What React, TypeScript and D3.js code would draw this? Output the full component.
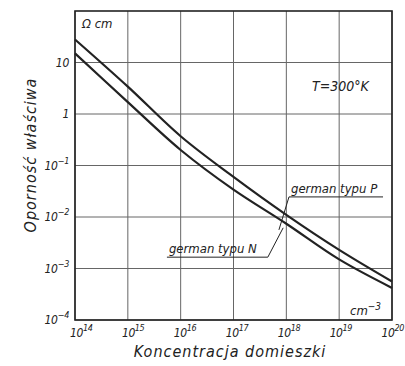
import React from 'react';
import * as d3 from 'd3';

// concentration, cm^-3
const conc = [1e14, 1e15, 1e16, 1e17, 1e18, 1e19, 1e20];
// resistivity, ohm cm
const rhoP = [28, 3.4, 0.37, 0.06, 0.011, 0.0023, 0.00056];
const rhoN = [15, 1.7, 0.2, 0.034, 0.0074, 0.0015, 0.00042];

const xExp = [14, 15, 16, 17, 18, 19, 20];
const yTicks = [1e-4, 1e-3, 1e-2, 1e-1, 1, 10];
const yLabels = ['-4', '-3', '-2', '-1', '1', '10'];

// label anchors in data units (log10)
const labelP = {x0: 18.05, x1: 19.83, y: -1.61, leadX: 17.86, leadY: -2.25, text: 'german typu P'};
const labelN = {x0: 15.74, x1: 17.65, y: -2.78, leadX: 17.94, leadY: -2.21, text: 'german typu N'};

const W = 405, H = 366;
const margin = {top: 11, right: 13, bottom: 46, left: 75};

export default function App() {
  const x = d3.scaleLog().domain([1e14, 1e20]).range([margin.left, W - margin.right]);
  const y = d3.scaleLog().domain([1e-4, 1e2]).range([H - margin.bottom, margin.top]);

  const line = d3.line<number>()
    .x((d, i) => x(conc[i]))
    .y(d => y(d))
    .curve(d3.curveCatmullRom.alpha(0.5));

  const ink = '#222';
  const font = '"DejaVu Sans Condensed", "DejaVu Sans", sans-serif';

  const lab = (l: typeof labelP, up: boolean) => {
    const ax = x(Math.pow(10, l.x0)), bx = x(Math.pow(10, l.x1)), ly = y(Math.pow(10, l.y));
    const lx = x(Math.pow(10, l.leadX)), lyy = y(Math.pow(10, l.leadY));
    const startX = up ? ax : bx;
    return (
      <g>
        <line x1={ax} x2={bx} y1={ly} y2={ly} stroke={ink} strokeWidth={1} />
        <line x1={startX} y1={ly} x2={lx} y2={lyy} stroke={ink} strokeWidth={1} />
        <text x={ax + 2} y={ly - 4} fontSize={13} fontStyle="italic" fill={ink} fontFamily={font}>{l.text}</text>
      </g>
    );
  };

  return (
    <svg width={W} height={H} style={{position: 'absolute', left: 0, top: 0, background: '#fff'}}>
      {/* grid */}
      {conc.map((c, i) => (
        <line key={'gx' + i} x1={x(c)} x2={x(c)} y1={y(1e2)} y2={y(1e-4)} stroke="#666" strokeWidth={1} />
      ))}
      {yTicks.map((t, i) => (
        <line key={'gy' + i} x1={x(1e14)} x2={x(1e20)} y1={y(t)} y2={y(t)} stroke="#666" strokeWidth={1} />
      ))}
      <rect x={x(1e14)} y={y(1e2)} width={x(1e20) - x(1e14)} height={y(1e-4) - y(1e2)}
        fill="none" stroke={ink} strokeWidth={1.6} />

      {/* curves */}
      <path d={line(rhoP) || ''} fill="none" stroke={ink} strokeWidth={2.2} />
      <path d={line(rhoN) || ''} fill="none" stroke={ink} strokeWidth={2.2} />

      {/* x tick labels */}
      {xExp.map((e, i) => (
        <text key={'xl' + i} x={x(conc[i]) - 5 - i * 0.9} y={337} fontSize={12} fontStyle="italic" fill={ink}
          fontFamily={font} letterSpacing={-0.4}>
          10<tspan dy={-6} fontSize={9}>{e}</tspan>
        </text>
      ))}
      {/* y tick labels */}
      {yTicks.map((t, i) => (
        <text key={'yl' + i} x={margin.left - 6} y={y(t) + 4} fontSize={12} fontStyle="italic" fill={ink}
          fontFamily={font} textAnchor="end" letterSpacing={-0.3}>
          {t >= 1 ? yLabels[i] : (<>10<tspan dy={-6} fontSize={9}>{yLabels[i].replace('-', '\u2212')}</tspan></>)}
        </text>
      ))}

      {/* axis titles */}
      <text x={230} y={357} textAnchor="middle" fontSize={16} fontStyle="italic" fill={ink} fontFamily={font}
        letterSpacing={1}>
        Koncentracja domieszki
      </text>
      <text transform={`translate(36,${155}) rotate(-90)`} textAnchor="middle" fontSize={16} fontStyle="italic"
        fill={ink} fontFamily={font} letterSpacing={1}>
        Oporność właściwa
      </text>

      {/* units and notes */}
      <text x={82} y={28} fontSize={13} fontStyle="italic" fill={ink} fontFamily={font}>Ω cm</text>
      <text x={312} y={91} fontSize={14} fontStyle="italic" fill={ink} fontFamily={font}>T=300°K</text>
      <text x={350} y={315} fontSize={13} fontStyle="italic" fill={ink} fontFamily={font}>
        cm<tspan dy={-5} fontSize={10}>−3</tspan>
      </text>

      {lab(labelP, true)}
      {lab(labelN, false)}
    </svg>
  );
}
